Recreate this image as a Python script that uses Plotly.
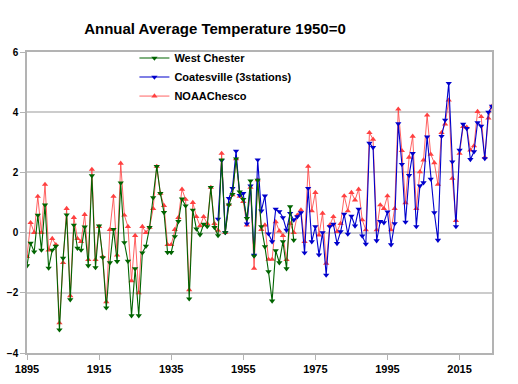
import plotly.graph_objects as go

# West Chester, 1895-1969
wc_start = 1895
wc_vals = [
    -1.1, -0.35, -0.64, 0.58, -0.58, 0.92, -1.18, -0.58, -0.45, -3.23,
    -0.85, 0.59, -2.23, 0.25, -0.52, -0.58, 0.19, -1.1, 1.89, -1.16,
    0.22, -0.83, -2.5, -1.0, 0.11, -0.96, 1.65, -0.33, -0.95, -2.76,
    -1.2, -2.76, -0.67, -0.45, 0.17, 1.16, 2.2, 1.3, 0.67, -0.66,
    -0.66, -0.13, 0.37, 1.12, 0.89, -2.2, 0.75, 0.12, -0.07, 0.28,
    0.2, 1.5, 0.17, -0.1, 2.42, 0.0, 0.92, 1.27, 2.45, 1.35,
    1.1, 0.47, 1.72, -0.78, 1.74, 0.2, -0.47, -1.3, -2.27, -0.6,
    -1.0, -0.3, -1.2, 0.86, -0.25,
]

# Coatesville (3 stations), 1948-2024
co_start = 1948
co_vals = [
    0.45, 2.4, 0.0, 1.14, 1.47, 2.71, 1.24, 1.3, 0.29, 1.55,
    -0.75, 2.42, 0.72, 1.22, -0.04, -0.3, 0.78, 0.7, 0.5, 0.08,
    0.64, 0.42, 0.53, 0.66, -0.67, 1.47, -0.3, 0.2, -0.74, 0.0,
    -1.41, 0.2, 0.28, -0.36, 0.03, 0.61, -0.05, 0.55, 0.22, 0.78,
    -0.11, -0.38, 2.97, 2.83, -0.27, 0.37, 0.33, 0.69, -0.4, 0.3,
    3.62, 2.27, 0.35, 1.9, 2.63, 0.2, 1.55, 1.66, 3.18, 1.78,
    0.66, -0.25, 3.2, 3.74, 4.96, 2.35, 0.2, 2.74, 3.6, 3.46,
    2.43, 2.69, 3.65, 3.54, 2.46, 4.0, 4.2,
]

# NOAA Chester County, 1895-2024
noaa_start = 1895
noaa_vals = [
    -0.8, 0.33, 0.0, 1.2, 0.0, 1.6, -0.58, -0.2, -0.4, -3.0,
    -1.0, 0.8, -2.1, 0.5, -0.2, -0.3, 0.6, -0.9, 2.1, -0.9,
    0.2, -0.8, -2.3, 0.1, 1.2, -0.75, 2.3, 0.58, 0.2, -1.6,
    -0.1, -2.0, 0.2, 0.0, 0.17, 0.8, 2.2, 1.3, 0.9, -0.4,
    -0.4, 0.1, 0.5, 1.44, 1.1, -1.9, 1.0, 0.53, 0.22, 0.53,
    0.3, 1.5, 0.3, 0.07, 2.63, 0.0, 0.94, 1.25, 2.45, 1.2,
    1.03, 0.25, 1.5, -1.19, 1.75, 0.1, 0.25, -0.89, -0.89, 0.36,
    0.05, -0.1, -0.9, 0.3, 0.0, 0.58, 0.75, -0.3, 2.2, 0.72,
    1.33, -0.08, 0.64, -1.02, 0.25, 0.53, 0.03, 0.3, 1.22, 0.72,
    1.33, 1.08, 1.44, 0.42, 0.09, 3.32, 3.1, 0.09, 0.92, 0.8,
    1.22, 0.09, 0.8, 4.1, 2.72, 0.99, 2.5, 3.2, 0.8, 2.02,
    2.41, 3.9, 2.6, 2.32, 1.6, 3.32, 3.6, 4.4, 1.8, 0.4,
    2.63, 3.52, 3.5, 2.74, 2.88, 4.02, 3.85, 2.5, 3.8, 4.2,
]

x_ticks = [1895, 1915, 1935, 1955, 1975, 1995, 2015]
y_ticks = [-4, -2, 0, 2, 4, 6]

wc_years = list(range(wc_start, wc_start + len(wc_vals)))
co_years = list(range(co_start, co_start + len(co_vals)))
noaa_years = list(range(noaa_start, noaa_start + len(noaa_vals)))

FONT = "Liberation Sans, Arial, sans-serif"

fig = go.Figure()
fig.add_trace(go.Scatter(
    x=noaa_years, y=noaa_vals, name="NOAAChesco", mode="lines+markers",
    line=dict(color="rgba(255,60,60,0.8)", width=1),
    marker=dict(symbol="triangle-up", size=5.5, color="#ff4040"),
))
fig.add_trace(go.Scatter(
    x=co_years, y=co_vals, name="Coatesville (3stations)", mode="lines+markers",
    line=dict(color="#0000cc", width=1.1),
    marker=dict(symbol="triangle-down", size=5.5, color="#0000cc"),
))
fig.add_trace(go.Scatter(
    x=wc_years, y=wc_vals, name="West Chester", mode="lines+markers",
    line=dict(color="#006400", width=1.1),
    marker=dict(symbol="triangle-down", size=5.5, color="#006400"),
))

fig.update_layout(
    width=518, height=384,
    margin=dict(l=27, r=26, t=52, b=31, autoexpand=False),
    paper_bgcolor="white", plot_bgcolor="white",
    font=dict(family=FONT, size=11, color="black"),
    title=dict(
        text="<b>Annual Average Temperature 1950=0</b>",
        x=215 / 518, xanchor="center", y=1 - 29 / 384, yanchor="middle",
        font=dict(family=FONT, size=15, color="black"),
    ),
    showlegend=True,
    legend=dict(
        x=0.231, y=1.028, xanchor="left", yanchor="top",
        traceorder="reversed", bgcolor="rgba(0,0,0,0)",
        font=dict(family=FONT, size=11, color="black", weight="bold"),
        itemwidth=30, tracegroupgap=0,
    ),
)
fig.update_xaxes(
    range=[1895, 2024], tickmode="array", tickvals=x_ticks,
    ticktext=[str(t) for t in x_ticks], automargin=False,
    showgrid=False, showline=True, mirror=True, linecolor="#b3b3b3", linewidth=1.5,
    ticks="outside", ticklen=5, tickcolor="#b3b3b3",
    tickfont=dict(family=FONT, size=11, color="black", weight="bold"),
    zeroline=False,
)
fig.update_yaxes(
    range=[-4, 6], tickmode="array", tickvals=y_ticks, automargin=False,
    showgrid=True, gridcolor="#cccccc", gridwidth=1.5,
    showline=True, mirror=True, linecolor="#b3b3b3", linewidth=1.5,
    ticks="outside", ticklen=5, tickcolor="#b3b3b3",
    tickfont=dict(family=FONT, size=10, color="black", weight="bold"),
    zeroline=False,
)

fig.write_html(
    "out.html",
    config={"displayModeBar": False},
    post_script="document.body.style.margin='0';document.body.style.padding='0';",
)
